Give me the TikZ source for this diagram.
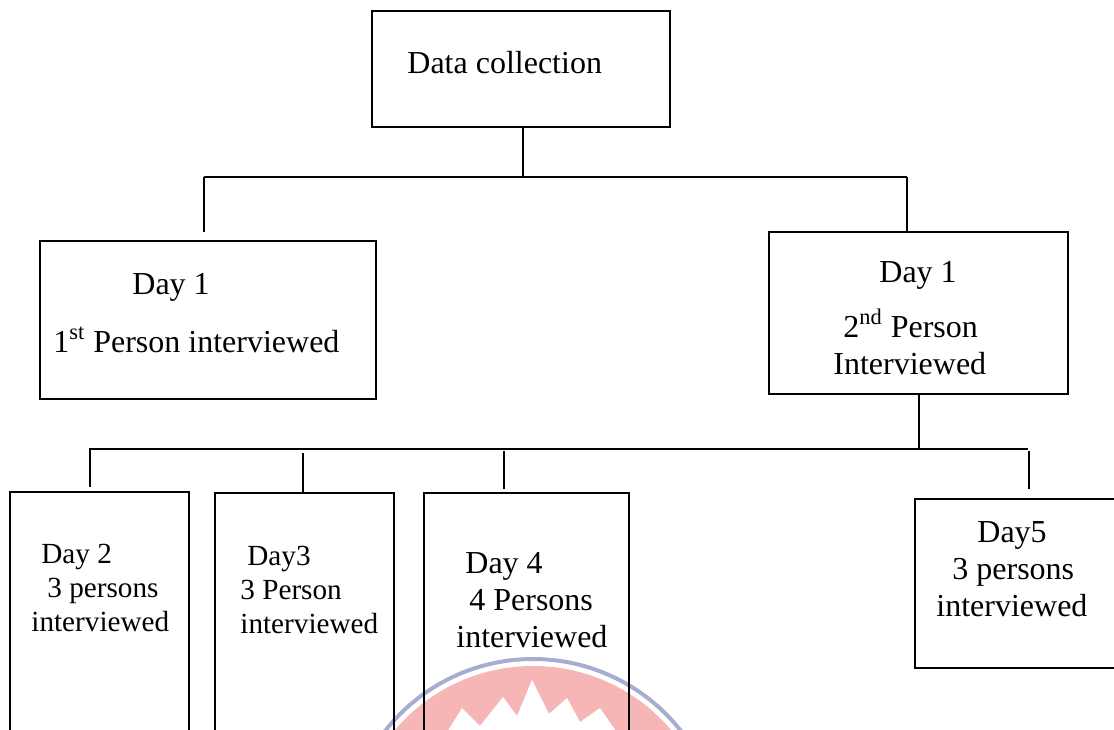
\documentclass[tikz,border=0pt]{standalone}
\usepackage{fontspec}
\setmainfont{Liberation Serif}
\usetikzlibrary{positioning}
\definecolor{stamppink}{HTML}{F6B6B6}
\definecolor{stampblue}{HTML}{A7ADD0}
\tikzset{
  stepbox/.style={
    draw=black,
    line width=1pt,
    inner sep=0pt
  },
  boxtext/.style={
    anchor=base west,
    inner sep=0pt,
    align=left,
    font=\fontsize{16}{17}\selectfont
  },
  smalltext/.style={
    boxtext,
    font=\fontsize{14.6}{17}\selectfont
  },
  link/.style={line width=1pt},
  busline/.style={line width=1.3pt}
}

\begin{document}
\begin{tikzpicture}[x=0.5pt,y=-0.5pt]
  \clip (0,0) rectangle (1114,729);

  % stamp behind the lower boxes
  \fill[stamppink] (533,847) circle[radius=181];
  \draw[stampblue, line width=2pt] (533,847) circle[radius=188];
  \fill[white] (430,760) -- (462,708) -- (480,726) -- (503,697) -- (517,716)
    -- (532,680) -- (549,714) -- (567,698) -- (580,722) -- (600,708) -- (636,760) -- cycle;

  % boxes
  \node[stepbox, minimum width=149pt, minimum height=58pt]   (collect) at (521,69)    {};
  \node[stepbox, minimum width=168pt, minimum height=79pt]   (first)   at (208,320)   {};
  \node[stepbox, minimum width=149.5pt, minimum height=81pt] (second)  at (918.5,313) {};
  \node[stepbox, minimum width=89.5pt, minimum height=134pt] (daytwo)  at (99.5,626)  {};
  \node[stepbox, minimum width=89.5pt, minimum height=134pt] (daythree) at (304,627)  {};
  \node[stepbox, minimum width=102.5pt, minimum height=134pt] (dayfour) at (526.5,627) {};
  \node[stepbox, minimum width=107.5pt, minimum height=84.5pt] (dayfive) at (1022.5,583.5) {};

  % texts (anchored on the last line)
  \node[boxtext] (collecttxt) at (407,73) {Data collection};
  \node[boxtext] (firsttxt)   at (53,352) {\hspace*{39.5pt}Day 1\\[12pt]1\textsuperscript{st} Person interviewed};
  \node[boxtext] (secondtxt)  at (833,374) {\hspace*{23pt}Day 1\\[9pt]\hspace*{5pt}2\textsuperscript{nd} Person\\[1.5pt]Interviewed};
  \node[smalltext] (daytwotxt)  at (31,631) {\hspace*{5pt}Day 2\\\hspace*{8pt}3 persons\\interviewed};
  \node[smalltext] (daythreetxt) at (240,633) {\hspace*{3.5pt}Day3\\3 Person\\interviewed};
  \node[boxtext] (dayfourtxt) at (456,647) {\hspace*{4.5pt}Day 4\\[1.5pt]\hspace*{6.5pt}4 Persons\\[1.5pt]interviewed};
  \node[boxtext] (dayfivetxt) at (936,616) {\hspace*{20.5pt}Day5\\[1.5pt]\hspace*{8pt}3 persons\\[1.5pt]interviewed};

  % upper tree
  \coordinate (busL) at (204,177);
  \coordinate (busR) at (907,177);
  \draw[link] ([xshift=1pt]collect.south) -- ([xshift=1pt]collect.south |- busL);
  \draw[busline] (busL) -- (busR);
  \draw[link] (busL) -- (busL |- first.north) [shorten >=4pt];
  \draw[link] (busR) -- (busR |- second.north);

  % lower tree
  \coordinate (lowL) at (89,449);
  \coordinate (lowR) at (1028,449);
  \coordinate (dropA) at (90,449);
  \coordinate (dropB) at (303,453);
  \coordinate (dropC) at (504,451);
  \coordinate (dropD) at (1029,451);
  \draw[link] (second.south) -- (second.south |- lowL);
  \draw[busline] (lowL) -- (lowR);
  \draw[link, shorten >=2pt] (dropA) -- (dropA |- daytwo.north);
  \draw[link] (dropB) -- (dropB |- daythree.north);
  \draw[link, shorten >=1.5pt] (dropC) -- (dropC |- dayfour.north);
  \draw[link, shorten >=4.5pt] (dropD) -- (dropD |- dayfive.north);
\end{tikzpicture}
\end{document}
